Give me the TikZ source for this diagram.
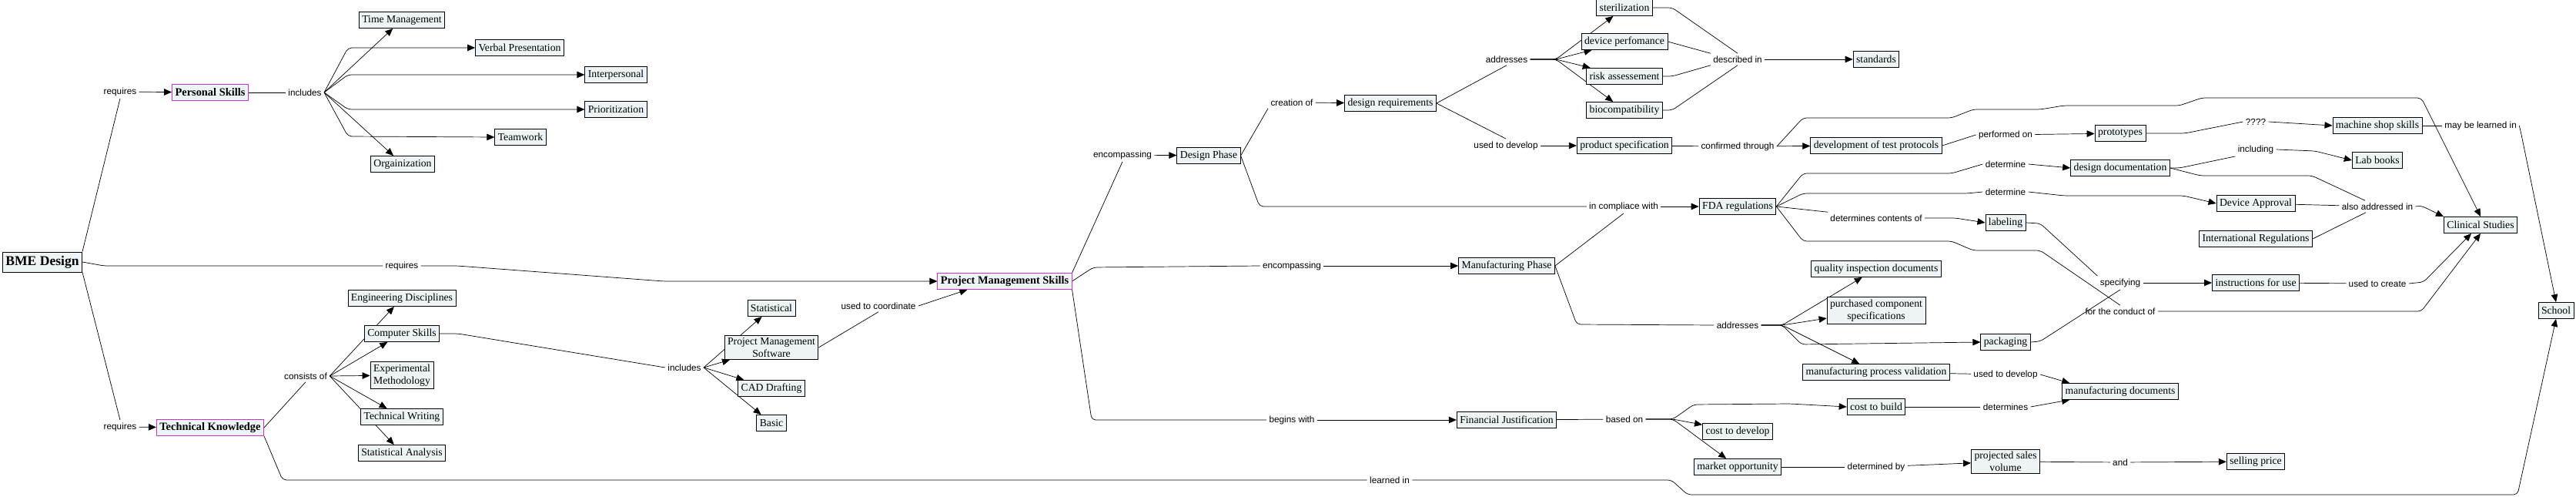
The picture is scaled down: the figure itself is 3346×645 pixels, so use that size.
\documentclass[tikz,border=0pt]{standalone}
\usepackage{fontspec}
\usepackage{xcolor}
\usepackage{tikz}
\usetikzlibrary{positioning,arrows.meta,calc,backgrounds}
\newfontfamily\cmapserif{Liberation Serif}
\newfontfamily\cmapsans{Liberation Sans}
\definecolor{conceptfill}{HTML}{EEF4F6}
\definecolor{mainpink}{HTML}{CC33CC}

\begin{document}
\begin{tikzpicture}[x=0.2mm, y=-0.2mm, line width=0.5pt, >={Triangle[length=2mm,width=1.7mm]},
  concept/.style={draw, fill=conceptfill, align=center, inner xsep=0.8mm, inner ysep=0.6mm, minimum height=4.2mm, font=\cmapserif\fontsize{7.8}{9}\selectfont},
  mainc/.style={concept, draw=mainpink, font=\cmapserif\bfseries\fontsize{8.2}{9}\selectfont},
  link/.style={inner sep=0.6mm, font=\cmapsans\fontsize{6.7}{7.5}\selectfont}]
\useasboundingbox (0,0) rectangle (3346,645);

\node[concept, minimum height=5.2mm, font=\cmapserif\bfseries\fontsize{10}{11}\selectfont] (bme) at (55,340) {BME Design};
\node[mainc] (pers) at (273,120) {Personal Skills};
\node[mainc] (tech) at (273,555) {Technical Knowledge};
\node[mainc] (pms) at (1305,365) {Project Management Skills};

\node[concept] (timem) at (522,26) {Time Management};
\node[concept] (verbal) at (675,62) {Verbal Presentation};
\node[concept] (inter) at (800,97) {Interpersonal};
\node[concept] (prio) at (800,142) {Prioritization};
\node[concept] (team) at (676,178) {Teamwork};
\node[concept] (orga) at (523,213) {Orgainization};

\node[concept] (engd) at (522,387) {Engineering Disciplines};
\node[concept] (comp) at (522,433) {Computer Skills};
\node[concept, align=left] (expm) at (522,487) {Experimental\\Methodology};
\node[concept] (techw) at (522,541) {Technical Writing};
\node[concept] (stata) at (522,588) {Statistical Analysis};

\node[concept] (statl) at (1002,400) {Statistical};
\node[concept] (pmsw) at (1002,451) {Project Management\\Software};
\node[concept] (cad) at (1002,504) {CAD Drafting};
\node[concept] (basic) at (1002,549) {Basic};

\node[concept] (desph) at (1570,202) {Design Phase};
\node[concept] (mfgph) at (1957,345) {Manufacturing Phase};
\node[concept] (finj) at (1957,545) {Financial Justification};

\node[concept] (dreq) at (1806,134) {design requirements};
\node[concept] (steril) at (2110,10) {sterilization};
\node[concept] (devperf) at (2110,54) {device perfomance};
\node[concept] (risk) at (2110,99) {risk assessement};
\node[concept] (bioc) at (2110,143) {biocompatibility};
\node[concept] (pspec) at (2110,189) {product specification};
\node[concept] (fda) at (2257,268) {FDA regulations};

\node[concept] (stds) at (2437,77) {standards};
\node[concept] (dtp) at (2437,189) {development of test protocols};
\node[concept] (qid) at (2437,349) {quality inspection documents};
\node[concept] (pcs) at (2437,403) {purchased component\\specifications};
\node[concept] (mpv) at (2437,483) {manufacturing process validation};
\node[concept] (cbuild) at (2437,528) {cost to build};
\node[concept] (cdev) at (2257,560) {cost to develop};
\node[concept] (mopp) at (2257,606) {market opportunity};

\node[concept] (proto) at (2754,173) {prototypes};
\node[concept] (ddoc) at (2754,218) {design documentation};
\node[concept] (label) at (2605,289) {labeling};
\node[concept] (pack) at (2605,444) {packaging};
\node[concept] (mdoc) at (2754,508) {manufacturing documents};
\node[concept] (psv) at (2605,599) {projected sales\\volume};

\node[concept] (mss) at (3088,163) {machine shop skills};
\node[concept] (labb) at (3088,208) {Lab books};
\node[concept] (devapp) at (2930,264) {Device Approval};
\node[concept] (intreg) at (2930,310) {International Regulations};
\node[concept] (ifu) at (2930,367) {instructions for use};
\node[concept] (sell) at (2930,599) {selling price};
\node[concept] (clin) at (3222,292) {Clinical Studies};
\node[concept] (school) at (3320,403) {School};

\node[link] (l_req1) at (156,119) {requires};
\node[link] (l_incl) at (396,120) {includes};
\node[link] (l_req2) at (522,345) {requires};
\node[link] (l_req3) at (156,554) {requires};
\node[link] (l_cons) at (397,488) {consists of};
\node[link] (l_incl2) at (889,477) {includes};
\node[link] (l_coord) at (1141,397) {used to coordinate};
\node[link] (l_enc1) at (1458,201) {encompassing};
\node[link] (l_enc2) at (1678,345) {encompassing};
\node[link] (l_begin) at (1678,545) {begins with};
\node[link] (l_learn) at (1805,623) {learned in};
\node[link] (l_creat) at (1678,133) {creation of};
\node[link] (l_addr1) at (1957,77) {addresses};
\node[link] (l_udev1) at (1956,189) {used to develop};
\node[link] (l_compl) at (2109,268) {in compliace with};
\node[link] (l_addr2) at (2257,422) {addresses};
\node[link] (l_based) at (2110,544) {based on};
\node[link] (l_descr) at (2257,77) {described in};
\node[link] (l_conf) at (2257,190) {confirmed through};
\node[link] (l_detc) at (2437,283) {determines contents of};
\node[link] (l_perf) at (2605,175) {performed on};
\node[link] (l_det1) at (2605,213) {determine};
\node[link] (l_det2) at (2605,249) {determine};
\node[link] (l_udev2) at (2605,486) {used to develop};
\node[link] (l_dets) at (2605,528) {determines};
\node[link] (l_detby) at (2437,606) {determined by};
\node[link] (l_and) at (2754,600) {and};
\node[link] (l_spec) at (2754,367) {specifying};
\node[link] (l_cond) at (2754,404) {for the conduct of};
\node[link] (l_q) at (2930,158) {????};
\node[link] (l_incg) at (2930,194) {including};
\node[link] (l_also) at (3088,268) {also addressed in};
\node[link] (l_mayb) at (3222,163) {may be learned in};
\node[link] (l_ucre) at (3088,368) {used to create};

\begin{scope}[on background layer, rounded corners=1mm]
\draw (bme.north east) -- (l_req1.south);
\draw[->] (l_req1) -- (pers);
\draw (pers) -- (l_incl);
\draw[->] (l_incl.east) -- (timem);
\draw[->] (l_incl.east) -- (452,62) -- (verbal.west);
\draw[->] (l_incl.east) -- (452,97) -- (inter.west);
\draw[->] (l_incl.east) -- (452,142) -- (prio.west);
\draw[->] (l_incl.east) -- (452,177) -- (team.west);
\draw[->] (l_incl.east) -- (orga);

\draw (bme.east) -- (135,345) -- (l_req2.west);
\draw[->] (l_req2.east) -- (594,345) -- (862,365) -- (pms.west);
\draw (bme.south east) -- (l_req3.north);
\draw[->] (l_req3) -- (tech);

\draw (tech.east) -- (l_cons.south);
\draw[->] (l_cons.east) -- (engd);
\draw[->] (l_cons.east) -- (comp);
\draw[->] (l_cons.east) -- (expm);
\draw[->] (l_cons.east) -- (techw);
\draw[->] (l_cons.east) -- (stata);

\draw (comp.east) -- (595,433) -- (l_incl2.west);
\draw[->] (l_incl2.east) -- (statl);
\draw[->] (l_incl2.east) -- (pmsw);
\draw[->] (l_incl2.east) -- (cad);
\draw[->] (l_incl2.east) -- (basic);
\draw (pmsw.east) -- (l_coord.south);
\draw[->] (l_coord.east) -- ($(pms.south west)+(39,0)$);

\draw (pms.north east) -- (l_enc1.south);
\draw[->] (l_enc1) -- (desph);
\draw (pms.east) -- (1420,347) -- (l_enc2.west);
\draw[->] (l_enc2) -- (mfgph);
\draw (pms.south east) -- (1418,545) -- (l_begin.west);
\draw[->] (l_begin) -- (finj);

\draw (tech.south east) -- (367,623) -- (l_learn.west);
\draw[->] (l_learn.east) -- (2171,623) -- (2192,642) -- (3270,642) -- (school.south);

\draw (desph.east) -- (l_creat.south west);
\draw[->] (l_creat) -- (dreq);
\draw (dreq.east) -- (l_addr1.south);
\draw[->] (l_addr1.east) -- (2021,77) -- (steril);
\draw[->] (l_addr1.east) -- (2021,77) -- (devperf);
\draw[->] (l_addr1.east) -- (2021,77) -- (risk);
\draw[->] (l_addr1.east) -- (2021,77) -- (bioc);
\draw (dreq.east) -- (l_udev1.north);
\draw[->] (l_udev1) -- (pspec);

\draw (steril.east) -- (2172,10) -- (l_descr.north);
\draw (devperf.east) -- (l_descr.north west);
\draw (risk.east) -- (2172,99) -- (l_descr.south west);
\draw (bioc.east) -- (2172,143) -- (l_descr.south);
\draw[->] (l_descr) -- (stds);

\draw (pspec) -- (l_conf);
\draw[->] (l_conf) -- (dtp);
\draw[->] (l_conf.east) -- (2342,153) -- (2535,153) -- (2563,142) -- (2650,142) -- (2681,137) -- (2831,137) -- (2860,127) -- (3145,127) -- (clin.north);

\draw (dtp.east) -- (l_perf.west);
\draw[->] (l_perf) -- (proto);
\draw (proto.east) -- (2838,173) -- (l_q.west);
\draw[->] (l_q.east) -- (mss.west);
\draw (mss) -- (l_mayb);
\draw[->] (l_mayb.east) -- (3274,170) -- (school.north);

\draw (desph.east) -- (1636,268) -- (l_compl.west);
\draw (mfgph.east) -- (l_compl.south);
\draw[->] (l_compl) -- (fda);

\draw (fda.east) -- (2342,225) -- (2535,225) -- (l_det1.west);
\draw (fda.east) -- (2342,251) -- (2555,251) -- (l_det2.west);
\draw (fda.east) -- (l_detc.north west);
\draw (fda.east) -- (2342,313) -- (2535,313) -- (2563,325) -- (2650,325) -- (l_cond.north);
\draw[->] (l_det1.east) -- (ddoc.west);
\draw (ddoc.east) -- (2831,218) -- (l_incg.south west);
\draw[->] (l_incg.east) -- (3007,196) -- (labb.west);
\draw (ddoc.east) -- (2858,228) -- (3003,228) -- ($(l_also.north)+(-16,0)$);
\draw[->] (l_det2.east) -- (2681,254) -- (2836,254) -- (devapp.west);
\draw (devapp) -- (l_also);
\draw (intreg.east) -- ($(l_also.south)+(-15,0)$);
\draw[->] (l_also.east) -- (3145,267) -- (clin.north west);

\draw[->] (l_detc.east) -- (2540,283) -- (label.west);
\draw (label.east) -- (2650,290) -- (l_spec.north west);
\draw (pack.east) -- (2650,443) -- (l_spec.south);
\draw[->] (l_spec) -- (ifu);
\draw (ifu) -- (l_ucre);
\draw[->] (l_ucre.east) -- (3148,366) -- ($(clin.south)+(-12,0)$);
\draw[->] (l_cond.east) -- (3145,404) -- (clin.south);

\draw (mfgph.east) -- (2048,421) -- (l_addr2.west);
\draw[->] (l_addr2.east) -- (2315,422) -- (qid);
\draw[->] (l_addr2.east) -- (2315,422) -- (pcs);
\draw[->] (l_addr2.east) -- (2315,422) -- (2340,447) -- (pack.west);
\draw[->] (l_addr2.east) -- (2315,422) -- (mpv);
\draw (mpv) -- (l_udev2);
\draw[->] (l_udev2.east) -- ($(mdoc.north west)+(10,0)$);
\draw (cbuild) -- (l_dets);
\draw[->] (l_dets.east) -- ($(mdoc.south west)+(10,0)$);

\draw (finj) -- (l_based);
\draw[->] (l_based.east) -- (2173,544) -- (2200,525) -- (2325,524) -- (cbuild.west);
\draw[->] (l_based.east) -- (2173,544) -- (cdev);
\draw[->] (l_based.east) -- (2173,544) -- (mopp);
\draw (mopp) -- (l_detby);
\draw[->] (l_detby) -- (psv);
\draw (psv) -- (l_and);
\draw[->] (l_and) -- (sell);
\end{scope}
\end{tikzpicture}
\end{document}
